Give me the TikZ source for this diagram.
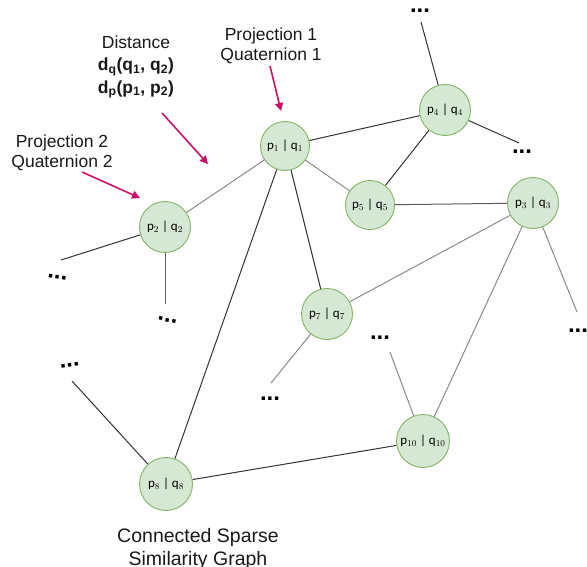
\documentclass[tikz,border=0pt]{standalone}
\usepackage{fontspec}
\setmainfont{Liberation Sans}
\newfontfamily\nodefont{Carlito}
\usetikzlibrary{arrows.meta}
\definecolor{nfill}{HTML}{D5E8D4}
\definecolor{ndraw}{HTML}{82B366}
\definecolor{arr}{HTML}{CC1166}
\definecolor{dk}{HTML}{333333}
\definecolor{gy}{HTML}{8A8A8A}
\tikzset{
  gnode/.style={circle,fill=nfill,draw=ndraw,line width=0.9pt,minimum size=#1,inner sep=0pt,font=\nodefont\fontsize{13}{15}\selectfont},
  gnode/.default=49pt,
  dots/.style={font=\bfseries\fontsize{24}{24}\selectfont,inner sep=0pt,anchor=base},
  dkedge/.style={draw=dk,line width=1pt},
  gyedge/.style={draw=gy,line width=1pt},
  pointer/.style={draw=arr,line width=1.6pt,-{Triangle[length=8pt,width=8pt]}},
  lbl/.style={font=\fontsize{17.5}{20.5}\selectfont,align=center,inner sep=0pt,text=black!90}
}
\begin{document}
\begin{tikzpicture}[x=1pt,y=-1pt]
\useasboundingbox (0,0) rectangle (587,567);
% nodes
\node[gnode] (p1) at (285,146) {p$_1$ | q$_1$};
\node[gnode=51pt] (p2) at (165,227) {p$_2$ | q$_2$};
\node[gnode=51pt] (p4) at (445,110) {p$_4$ | q$_4$};
\node[gnode] (p5) at (370,205) {p$_5$ | q$_5$};
\node[gnode=51pt] (p3) at (533,203) {p$_3$ | q$_3$};
\node[gnode=51pt] (p7) at (327,314) {p$_7$ | q$_7$};
\node[gnode=53pt] (p10) at (423,441) {p$_{10}$ | q$_{10}$};
\node[gnode=53pt] (p8) at (166,484) {p$_8$ | q$_8$};
% dots
\node[dots] (d1) at (420,13) {...};
\node[dots] (d2) at (522,154) {...};
\node[dots] (d3) at (578,332) {...};
\node[dots] (d4) at (380,339) {...};
\node[dots] (d5) at (270,400) {...};
\node[dots,rotate=-12] (d6) at (167,322) {...};
\node[dots,rotate=-8] (d7) at (57,279) {...};
\node[dots,rotate=8] (d8) at (70,367) {...};
% free ends
\coordinate (e1) at (421,22);
\coordinate (e2) at (519,143);
\coordinate (e3) at (577,312);
\coordinate (e4) at (390,352);
\coordinate (e5) at (271,383);
\coordinate (e6) at (165,304);
\coordinate (e7) at (61,260);
\coordinate (e8) at (72,381);
% edges
\draw[dkedge] (p1) -- (p4);
\draw[gyedge] (p1) -- (p5);
\draw[dkedge] (p1) -- (p7);
\draw[dkedge] (p1) -- (p8);
\draw[gyedge] (p1) -- (p2);
\draw[dkedge] (p4) -- (p5);
\draw[dkedge] (p4) -- (e1);
\draw[dkedge] (p4) -- (e2);
\draw[dkedge,draw=dk!80] (p5) -- (p3);
\draw[gyedge] (p3) -- (p7);
\draw[gyedge] (p3) -- (p10);
\draw[gyedge] (p3) -- (e3);
\draw[gyedge] (p7) -- (e5);
\draw[gyedge] (e4) -- (p10);
\draw[dkedge] (p10) -- (p8);
\draw[dkedge] (p8) -- (e8);
\draw[dkedge] (p2) -- (e7);
\draw[dkedge,draw=dk!80] (p2) -- (e6);
% labels
\node[lbl] (t1) at (271,46) {Projection 1\\Quaternion 1};
\node[lbl,font=\fontsize{17.5}{22.5}\selectfont] (t2) at (136,67) {Distance\\\textbf{d$_\mathbf{q}$(q$_\mathbf{1}$, q$_\mathbf{2}$)}\\\textbf{d$_\mathbf{p}$(p$_\mathbf{1}$, p$_\mathbf{2}$)}};
\node[lbl,font=\fontsize{17.5}{19.5}\selectfont] (t3) at (62,153) {Projection 2\\Quaternion 2};
\node[lbl,font=\fontsize{19.5}{23}\selectfont] (t4) at (198,549) {Connected Sparse\\Similarity Graph};
% arrows
\coordinate (a1s) at (270,66);
\coordinate (a1e) at (281,111);
\coordinate (a2s) at (162,113);
\coordinate (a2e) at (208,164);
\coordinate (a3s) at (82,172);
\coordinate (a3e) at (140,198);
\draw[pointer] (a1s) -- (a1e);
\draw[pointer] (a2s) -- (a2e);
\draw[pointer] (a3s) -- (a3e);
\end{tikzpicture}
\end{document}
